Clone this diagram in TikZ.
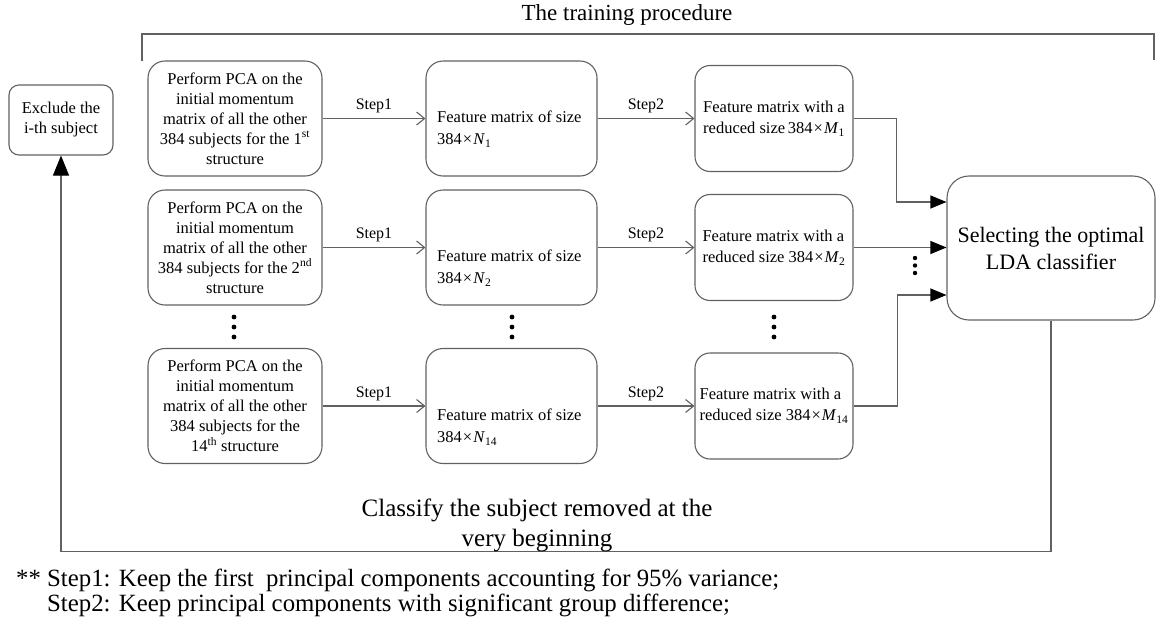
\documentclass[tikz,border=0pt]{standalone}
\usepackage{fontspec}
\setmainfont{Liberation Serif}
\usetikzlibrary{arrows.meta}
\newcommand{\dimx}[2]{384\kern1pt×\kern1pt\textit{#1}\textsubscript{#2}}
\begin{document}
\begin{tikzpicture}[x=1pt,y=-1pt,
  line/.style={draw=black!62, line width=1.1pt},
  box/.style={line, inner sep=0pt},
  pcabox/.style={box, rounded corners=17pt, minimum width=174pt, minimum height=115pt, align=center, font=\fontsize{16.5}{20}\selectfont},
  featbox/.style={box, rounded corners=17pt, minimum width=171pt, minimum height=115pt},
  redbox/.style={box, rounded corners=15pt, minimum width=158pt, minimum height=106pt, align=left, font=\fontsize{16.5}{21}\selectfont},
  feattext/.style={anchor=west, inner sep=0pt, align=left, font=\fontsize{16.5}{22}\selectfont},
  steplabel/.style={midway, above=5pt, inner sep=0pt, font=\fontsize{16}{19}\selectfont},
  openarrow/.style={line, -{Straight Barb[length=8pt,width=13pt]}},
  fillarrow/.style={line, -{Triangle[length=16pt,width=13pt,color=black,fill=black]}},
  bigarrow/.style={line, -{Triangle[length=20pt,width=16pt,color=black,fill=black]}},
  dotmark/.style={fill=black}
]
\useasboundingbox (0,0) rectangle (1156,625);

% title and bracket
\node[font=\fontsize{23}{27}\selectfont, inner sep=0pt] (title) at (627,15) {The training procedure};
\draw[line] (142,61) -- (142,34) -- (1154,34) -- (1154,60);

% exclude box
\node[box, rounded corners=10pt, minimum width=104pt, minimum height=70pt, align=center,
      font=\fontsize{16.5}{20}\selectfont] (ex) at (61,120) {Exclude the\\i-th subject};

% column 1
\node[pcabox] (p1) at (235,118.5) {Perform PCA on the\\initial momentum\\matrix of all the other\\384 subjects for the 1\textsuperscript{st}\\structure};
\node[pcabox] (p2) at (235,247.5) {Perform PCA on the\\initial momentum\\matrix of all the other\\384 subjects for the 2\textsuperscript{nd}\\structure};
\node[pcabox] (p3) at (235,406) {Perform PCA on the\\initial momentum\\matrix of all the other\\384 subjects for the\\14\textsuperscript{th} structure};

% column 2
\node[featbox] (f1) at (511.5,118.5) {};
\node[featbox] (f2) at (511.5,247.5) {};
\node[featbox] (f3) at (511.5,406) {};
\node[feattext] (t1) at (437,129) {Feature matrix of size\\\dimx{N}{1}};
\node[feattext] (t2) at (437,268) {Feature matrix of size\\\dimx{N}{2}};
\node[feattext] (t3) at (437,427) {Feature matrix of size\\\dimx{N}{14}};

% column 3
\node[redbox] (r1) at (774,118.5) {Feature matrix with a\\reduced size\,\dimx{M}{1}};
\node[redbox] (r2) at (774,247.5) {Feature matrix with a\\reduced size \dimx{M}{2}};
\node[redbox] (r3) at (774,406) {Feature matrix with a\\reduced size \dimx{M}{14}};

% LDA box
\node[box, rounded corners=22pt, minimum width=208pt, minimum height=144pt, align=center,
      font=\fontsize{22}{27}\selectfont] (lda) at (1051,248) {Selecting the optimal\\LDA classifier};

% step arrows
\draw[openarrow] (p1.east) -- node[steplabel] {Step1} (f1.west);
\draw[openarrow] (p2.east) -- node[steplabel] {Step1} (f2.west);
\draw[openarrow] (p3.east) -- node[steplabel] {Step1} (f3.west);
\draw[openarrow] (f1.east) -- node[steplabel] {Step2} (r1.west);
\draw[openarrow] (f2.east) -- node[steplabel] {Step2} (r2.west);
\draw[openarrow] (f3.east) -- node[steplabel] {Step2} (r3.west);

% into LDA
\draw[fillarrow] (r1.east) -- ++(43,0) |- ([yshift=46pt]lda.west);
\draw[fillarrow] (r2.east) -- (lda.west |- r2.east);
\draw[fillarrow] (r3.east) -- ++(44,0) |- ([yshift=-47pt]lda.west);

% feedback loop
\draw[bigarrow] (lda.south) -- ++(0,231) -| (ex.south);

% dots
\foreach \px in {234,512,774} {
  \foreach \d in {-10,0,10} \fill[dotmark] (\px,327+\d) circle (2.4pt);
}
\foreach \d in {-7.5,0,7.5} \fill[dotmark] (915,265.5+\d) circle (2.2pt);

% bottom texts
\node[align=center, inner sep=0pt, font=\fontsize{25}{30}\selectfont] (classify) at (537,525)
  {Classify the subject removed at the\\very beginning};
\node[anchor=west, inner sep=0pt, font=\fontsize{24.8}{24.5}\selectfont] (note) at (16,594)
  {\begin{tabular}{@{}l@{ }l@{}}** & Step1: Keep the first\ \ principal components accounting for 95\% variance;\\
   & Step2: Keep principal components with significant group difference;\end{tabular}};
\end{tikzpicture}
\end{document}
